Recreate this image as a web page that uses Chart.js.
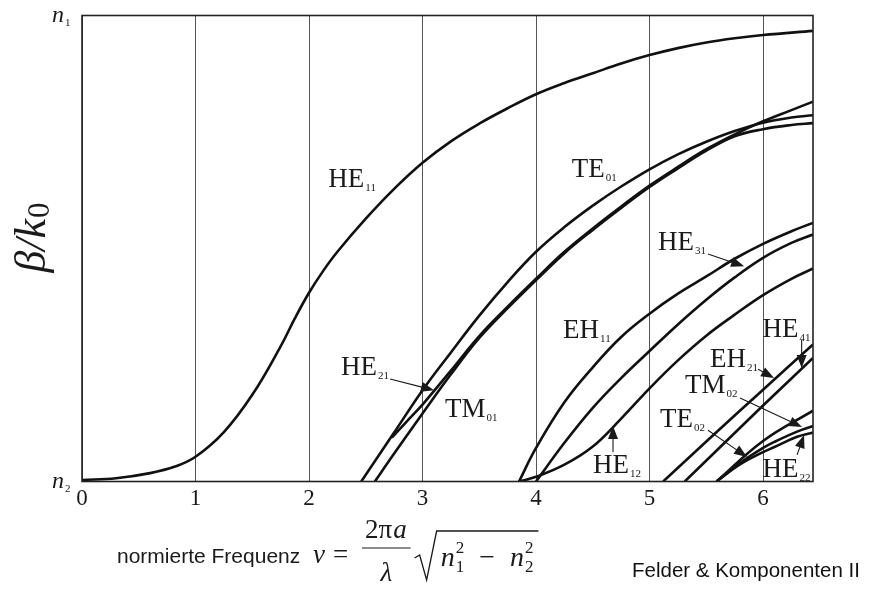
<!DOCTYPE html>
<html>
<head>
<meta charset="utf-8">
<script src="https://cdn.jsdelivr.net/npm/chart.js@4.4.0/dist/chart.umd.min.js"></script>
<style>
  html, body { margin: 0; background: #fff; }
</style>
</head>
<body>
<canvas id="chart" width="870" height="590"></canvas>
<script>
// normierte Frequenz (x) vs. normierte Ausbreitungskonstante (0 = n2, 1 = n1)
const xTicks = [0, 1, 2, 3, 4, 5, 6];

const HE11 = [[0,0.003],[0.3,0.007],[0.6,0.018],[0.82,0.032],[1,0.053],[1.25,0.106],[1.5,0.186],[1.75,0.29],[1.875,0.35],[2,0.405],[2.125,0.452],[2.25,0.493],[2.5,0.564],[2.75,0.628],[3,0.684],[3.25,0.73],[3.5,0.768],[3.75,0.801],[4,0.831],[4.25,0.855],[4.5,0.876],[4.75,0.897],[5,0.915],[5.25,0.93],[5.5,0.942],[5.75,0.951],[6,0.958],[6.44,0.967]];
const TE01 = [[2.46,0],[2.75,0.105],[3,0.196],[3.25,0.277],[3.5,0.356],[3.75,0.428],[4,0.493],[4.25,0.546],[4.5,0.592],[4.75,0.633],[5,0.670],[5.25,0.702],[5.5,0.729],[5.75,0.752],[6,0.770],[6.25,0.781],[6.44,0.786]];
const TM01 = [[2.58,0],[2.75,0.06],[3,0.146],[3.25,0.23],[3.5,0.308],[3.75,0.372],[4,0.432],[4.25,0.49],[4.5,0.54],[4.75,0.587],[5,0.632],[5.25,0.672],[5.5,0.71],[5.75,0.741],[6,0.756],[6.25,0.765],[6.44,0.769]];
const HE21 = [[2.73,0.094],[2.85,0.126],[3,0.165],[3.1,0.194],[3.25,0.238],[3.5,0.312],[3.75,0.375],[4,0.435],[4.25,0.493],[4.5,0.543],[4.75,0.59],[5,0.635],[5.25,0.675],[5.5,0.713],[5.75,0.745],[6,0.773],[6.25,0.797],[6.44,0.815]];
const EH11 = [[3.85,0],[4,0.072],[4.25,0.17],[4.5,0.245],[4.75,0.31],[5,0.36],[5.25,0.403],[5.5,0.44],[5.75,0.478],[6,0.51],[6.25,0.537],[6.44,0.555]];
const HE31 = [[4,0],[4.25,0.083],[4.5,0.158],[4.75,0.222],[5,0.28],[5.25,0.337],[5.5,0.39],[5.75,0.438],[6,0.48],[6.25,0.512],[6.44,0.53]];
const HE12 = [[3.85,0],[4,0.01],[4.25,0.036],[4.5,0.075],[4.75,0.135],[5,0.2],[5.25,0.26],[5.5,0.313],[5.75,0.358],[6,0.4],[6.25,0.435],[6.44,0.457]];
const EH21 = [[5.12,0],[5.5,0.086],[6,0.197],[6.44,0.294]];
const HE41 = [[5.31,0],[5.75,0.104],[6,0.163],[6.44,0.265]];
const TE02 = [[5.59,0],[6,0.087],[6.44,0.152]];
const TM02 = [[5.59,0],[5.8,0.04],[6,0.072],[6.1,0.085],[6.3,0.107],[6.44,0.119]];
const HE22 = [[5.59,0],[5.8,0.037],[6,0.063],[6.1,0.074],[6.3,0.096],[6.44,0.105]];

const curves = [HE11, TE01, TM01, HE21, EH11, HE31, HE12, EH21, HE41, TE02, TM02, HE22];

// Beschriftungen der Moden (Lage in Datenkoordinaten)
const modeLabels = [
  { main: "HE", sub: "11", at: [2.17, 0.632] },
  { main: "TE", sub: "01", at: [4.315, 0.653] },
  { main: "HE", sub: "21", at: [2.282, 0.2285] },
  { main: "TM", sub: "01", at: [3.198, 0.139] },
  { main: "HE", sub: "31", at: [5.075, 0.497] },
  { main: "EH", sub: "11", at: [4.238, 0.308] },
  { main: "HE", sub: "12", at: [4.502, 0.018] },
  { main: "HE", sub: "41", at: [5.996, 0.31] },
  { main: "EH", sub: "21", at: [5.533, 0.246] },
  { main: "TM", sub: "02", at: [5.313, 0.19] },
  { main: "TE", sub: "02", at: [5.093, 0.117] },
  { main: "HE", sub: "22", at: [5.996, 0.0097] }
];

const arrows = [
  [2.714, 0.22, 3.101, 0.196],
  [5.515, 0.488, 5.833, 0.462],
  [4.678, 0.063, 4.678, 0.119],
  [6.34, 0.304, 6.34, 0.2435],
  [5.956, 0.241, 6.097, 0.222],
  [5.797, 0.179, 6.343, 0.117],
  [5.515, 0.110, 5.859, 0.0526],
  [6.30, 0.057, 6.361, 0.0998]
];

const SERIF = "'Liberation Serif', serif";
const SANS = "'Liberation Sans', Arial, sans-serif";

function arrow(ctx, x1, y1, x2, y2) {
  const a = Math.atan2(y2 - y1, x2 - x1);
  const len = 13, half = 5;
  ctx.beginPath();
  ctx.moveTo(x1, y1);
  ctx.lineTo(x2 - len * Math.cos(a) * 0.8, y2 - len * Math.sin(a) * 0.8);
  ctx.stroke();
  ctx.beginPath();
  ctx.moveTo(x2, y2);
  ctx.lineTo(x2 - len * Math.cos(a) + half * Math.sin(a), y2 - len * Math.sin(a) - half * Math.cos(a));
  ctx.lineTo(x2 - len * Math.cos(a) - half * Math.sin(a), y2 - len * Math.sin(a) + half * Math.cos(a));
  ctx.closePath();
  ctx.fill();
}

function subText(ctx, main, sub, x, y, size, subSize, italic) {
  ctx.font = (italic ? "italic " : "") + size + "px " + SERIF;
  ctx.fillText(main, x, y);
  const w = ctx.measureText(main).width;
  ctx.font = subSize + "px " + SERIF;
  ctx.fillText(sub, x + w + 1, y + 4);
  return w + ctx.measureText(sub).width + 1;
}

// n mit Hoch- und Tiefzahl, gibt die Breite zurück
function nTerm(ctx, x, base, idx) {
  ctx.font = "italic 28px " + SERIF;
  ctx.fillText("n", x, base);
  const nw = ctx.measureText("n").width;
  ctx.font = "17px " + SERIF;
  ctx.fillText("2", x + nw + 1, base - 13);
  ctx.fillText(idx, x + nw + 1, base + 6);
  return nw + 1 + ctx.measureText("2").width;
}

const decorations = {
  id: "decorations",
  afterDatasetsDraw(chart) {
    const { ctx, chartArea: ca, scales: { x, y } } = chart;
    ctx.save();
    // Rahmen
    ctx.strokeStyle = "#222";
    ctx.lineWidth = 1.6;
    ctx.strokeRect(ca.left, ca.top, ca.right - ca.left, ca.bottom - ca.top);

    ctx.fillStyle = "#1a1a1a";
    ctx.textAlign = "left";
    ctx.textBaseline = "alphabetic";
    modeLabels.forEach(l => {
      subText(ctx, l.main, l.sub, x.getPixelForValue(l.at[0]), y.getPixelForValue(l.at[1]), 27, 11, false);
    });

    ctx.strokeStyle = "#1a1a1a";
    ctx.lineWidth = 1.1;
    arrows.forEach(a => {
      arrow(ctx, x.getPixelForValue(a[0]), y.getPixelForValue(a[1]), x.getPixelForValue(a[2]), y.getPixelForValue(a[3]));
    });

    // n1 / n2 an der y-Achse
    subText(ctx, "n", "1", ca.left - 30, y.getPixelForValue(1) + 6, 24, 11, true);
    subText(ctx, "n", "2", ca.left - 30, y.getPixelForValue(0) + 6, 24, 11, true);

    // y-Achsentitel
    ctx.save();
    ctx.translate(45, 238);
    ctx.rotate(-Math.PI / 2);
    ctx.font = "italic 44px " + SERIF;
    const w1 = ctx.measureText("\u03b2/k").width;
    ctx.font = "31px " + SERIF;
    const w2 = ctx.measureText("0").width;
    const sx = -(w1 + w2) / 2;
    ctx.font = "italic 44px " + SERIF;
    ctx.fillText("\u03b2/k", sx, 0);
    ctx.font = "31px " + SERIF;
    ctx.fillText("0", sx + w1 + 1, 4);
    ctx.restore();

    // x-Achsentitel mit Formel
    ctx.font = "21px " + SANS;
    ctx.fillText("normierte Frequenz", 117, 563);
    ctx.font = "italic 27px " + SERIF;
    ctx.fillText("\u03bd", 313, 563);
    ctx.font = "27px " + SERIF;
    ctx.fillText("=", 333, 563);
    // Bruch 2πa / λ
    ctx.font = "27px " + SERIF;
    const w2pi = ctx.measureText("2\u03c0").width;
    ctx.font = "italic 27px " + SERIF;
    const wa = ctx.measureText("a").width;
    const fx = 365, fw = w2pi + wa + 2;
    ctx.font = "27px " + SERIF;
    ctx.fillText("2\u03c0", fx, 538);
    ctx.font = "italic 27px " + SERIF;
    ctx.fillText("a", fx + w2pi + 1, 538);
    ctx.textAlign = "center";
    ctx.fillText("\u03bb", fx + fw / 2, 581);
    ctx.textAlign = "left";
    ctx.lineWidth = 1.2;
    ctx.beginPath();
    ctx.moveTo(fx - 3, 548);
    ctx.lineTo(fx + fw + 3, 548);
    ctx.stroke();
    // Wurzel
    const rx = fx + fw + 7;
    let px = rx + 26;
    px += nTerm(ctx, px, 566, "1") + 15;
    ctx.font = "28px " + SERIF;
    ctx.fillText("\u2212", px, 566);
    px += ctx.measureText("\u2212").width + 15;
    px += nTerm(ctx, px, 566, "2") + 5;
    ctx.lineWidth = 1.3;
    ctx.beginPath();
    ctx.moveTo(rx, 558);
    ctx.lineTo(rx + 5, 555);
    ctx.lineTo(rx + 12, 580);
    ctx.lineTo(rx + 22, 531);
    ctx.lineTo(px, 531);
    ctx.stroke();

    ctx.font = "20.5px " + SANS;
    ctx.fillStyle = "#111";
    ctx.fillText("Felder & Komponenten II", 632, 577);
    ctx.restore();
  }
};

new Chart(document.getElementById("chart"), {
  type: "line",
  data: {
    datasets: curves.map(c => ({
      data: c.map(p => ({ x: p[0], y: p[1] })),
      borderColor: "#111",
      borderWidth: 2.6,
      pointRadius: 0,
      fill: false,
      tension: 0.4
    }))
  },
  options: {
    responsive: false,
    animation: false,
    devicePixelRatio: 1,
    layout: { padding: { top: 15.5, right: 57, left: 0, bottom: 0 } },
    plugins: { legend: { display: false }, tooltip: { enabled: false } },
    scales: {
      x: {
        type: "linear",
        min: 0,
        max: 6.44,
        afterFit: s => { s.height = 108.5; },
        afterBuildTicks: s => { s.ticks = xTicks.map(v => ({ value: v })); },
        grid: { color: "#555", lineWidth: 1, drawTicks: false },
        border: { display: false },
        ticks: {
          padding: 4,
          color: "#1a1a1a",
          font: { family: "Liberation Serif", size: 23 },
          maxRotation: 0
        }
      },
      y: {
        type: "linear",
        min: 0,
        max: 1,
        afterFit: s => { s.width = 82; },
        grid: { display: false },
        border: { display: false },
        ticks: { display: false }
      }
    }
  },
  plugins: [decorations]
});
</script>
</body>
</html>
